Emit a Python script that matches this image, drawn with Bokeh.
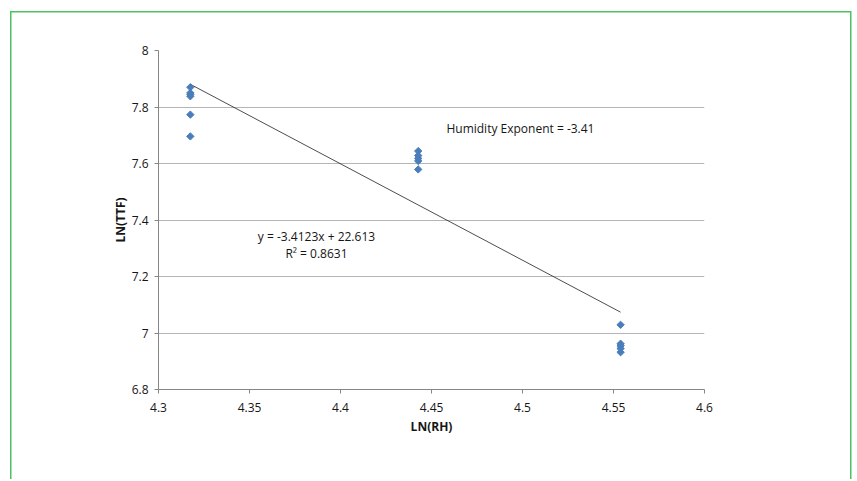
import numpy as np
from bokeh.plotting import figure
from bokeh.models import Label, FixedTicker
from bokeh.embed import file_html
from bokeh.resources import INLINE

# Data (natural logs of RH and TTF)
ln_rh = [4.3175, 4.3175, 4.3175, 4.3175, 4.3175, 4.3175,
         4.4427, 4.4427, 4.4427, 4.4427, 4.4427,
         4.5539, 4.5539, 4.5539, 4.5539, 4.5539]
ln_ttf = [7.870, 7.850, 7.845, 7.838, 7.773, 7.696,
          7.644, 7.628, 7.618, 7.609, 7.579,
          7.029, 6.962, 6.955, 6.945, 6.932]
slope = -3.4123
intercept = 22.613
r2 = 0.8631
exponent = -3.41
x_ticks = [4.3, 4.35, 4.4, 4.45, 4.5, 4.55, 4.6]
y_ticks = [6.8, 7.0, 7.2, 7.4, 7.6, 7.8, 8.0]

FONT = "Open Sans"
TXT = "#161616"
GREEN = "#4cc262"

p = figure(frame_width=546, frame_height=339,
           min_border_left=158, min_border_right=149,
           min_border_top=50, min_border_bottom=90,
           x_range=(4.3, 4.6), y_range=(6.8, 8.0),
           output_backend="svg", toolbar_location=None,
           background_fill_color="white", border_fill_color=None)
p.outline_line_color = None

# trend line
tx = [min(ln_rh), max(ln_rh)]
ty = [slope * v + intercept for v in tx]
p.line(tx, ty, line_color="#1f1f1f", line_width=0.8)

p.scatter(ln_rh, ln_ttf, marker="square", angle=np.pi / 4, size=5.2,
          fill_color="#4a7ebb", line_color="#4a7ebb")

p.xaxis.ticker = FixedTicker(ticks=x_ticks)
p.yaxis.ticker = FixedTicker(ticks=y_ticks)
p.xaxis.major_label_overrides = {4.3: "4.3", 4.35: "4.35", 4.4: "4.4", 4.45: "4.45",
                                 4.5: "4.5", 4.55: "4.55", 4.6: "4.6"}
p.yaxis.major_label_overrides = {6.8: "6.8", 7.0: "7", 7.2: "7.2", 7.4: "7.4",
                                 7.6: "7.6", 7.8: "7.8", 8.0: "8"}

for ax in (p.xaxis, p.yaxis):
    ax.axis_line_color = "#868686"
    ax.major_tick_line_color = "#868686"
    ax.major_tick_out = 4
    ax.major_tick_in = 0
    ax.minor_tick_line_color = None
    ax.major_label_text_font = FONT
    ax.major_label_text_font_size = "12px"
    ax.major_label_text_color = TXT
    ax.axis_label_text_font = FONT
    ax.axis_label_text_font_size = "12px"
    ax.axis_label_text_font_style = "bold"
    ax.axis_label_text_color = TXT

p.xaxis.axis_label = "LN(RH)"
p.yaxis.axis_label = "LN(TTF)"
p.xaxis.major_label_standoff = 9
p.yaxis.major_label_standoff = 6
p.xaxis.axis_label_standoff = 3
p.yaxis.axis_label_standoff = 0

p.xgrid.grid_line_color = None
p.ygrid.grid_line_color = "#b5b5b5"
p.ygrid.grid_line_width = 1

p.add_layout(Label(x=4.3868, y=7.342, text=f"y = {slope}x + {intercept}",
                   text_align="center", text_baseline="middle",
                   text_font=FONT, text_font_size="12px", text_color=TXT))
p.add_layout(Label(x=4.3868, y=7.281, text=f"R² = {r2}",
                   text_align="center", text_baseline="middle",
                   text_font=FONT, text_font_size="12px", text_color=TXT))
p.add_layout(Label(x=4.4582, y=7.724, text=f"Humidity Exponent = {exponent}",
                   text_align="left", text_baseline="middle",
                   text_font=FONT, text_font_size="12px", text_color=TXT))

# outer green chart border (left, top, right edges; bottom runs off the page)
p.stylesheets = [f""":host {{ background:
  linear-gradient({GREEN},{GREEN}) 10px 11px / 1.5px 100% no-repeat,
  linear-gradient({GREEN},{GREEN}) 10px 11px / 841px 1.5px no-repeat,
  linear-gradient({GREEN},{GREEN}) 850px 11px / 1.5px 100% no-repeat,
  white; }}"""]

open("out.html", "w").write(file_html(p, INLINE))
